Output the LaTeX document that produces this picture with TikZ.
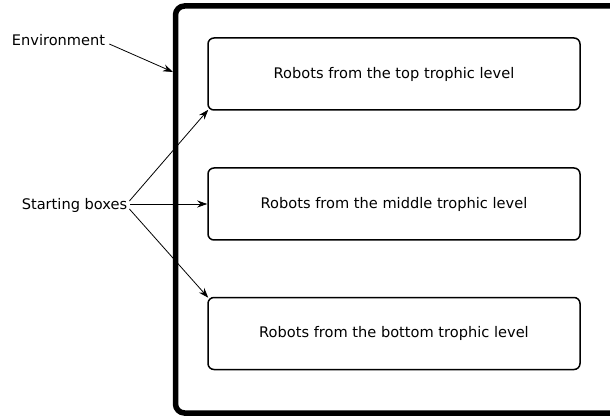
\documentclass[tikz,border=0pt]{standalone}
\usepackage{fontspec}
\setmainfont{DejaVu Sans}
\usetikzlibrary{arrows.meta,calc}
\begin{document}
\begin{tikzpicture}[x=1pt,y=1pt,
  level/.style={draw,line width=1.5pt,rounded corners=6pt,minimum width=372pt,minimum height=72pt,font=\fontsize{14.6}{17}\selectfont},
  label/.style={font=\fontsize{14.6}{17}\selectfont,inner sep=1pt},
  arr/.style={-{Stealth[length=10pt,width=7pt]},line width=0.8pt}]
\useasboundingbox (0,0) rectangle (610,418);
\begin{scope}
\clip (0,0) rectangle (610,418);
% environment border
\draw[line width=5.5pt,rounded corners=9pt] (175.5,5) rectangle (640,412);
\end{scope}
% trophic level boxes
\node[level] (top) at (394,344) {Robots from the top trophic level};
\node[level] (mid) at (394,214) {Robots from the middle trophic level};
\node[level] (bot) at (394,84.5) {Robots from the bottom trophic level};
% labels
\node[label] (env) at (58.5,378) {Environment};
\node[label] (start) at (74.5,213) {Starting boxes};
\coordinate (envtip) at (173,346);
% connectors
\draw[arr] ($(env.east)+(3,-4)$) -- (envtip);
\draw[arr] ($(start.east)+(1,4)$) -- ($(top.south west)+(1,1)$);
\draw[arr] ($(start.east)+(2,1)$) -- (mid.west);
\draw[arr] ($(start.east)+(1,-4)$) -- ($(bot.north west)+(1,-1)$);
\end{tikzpicture}
\end{document}
